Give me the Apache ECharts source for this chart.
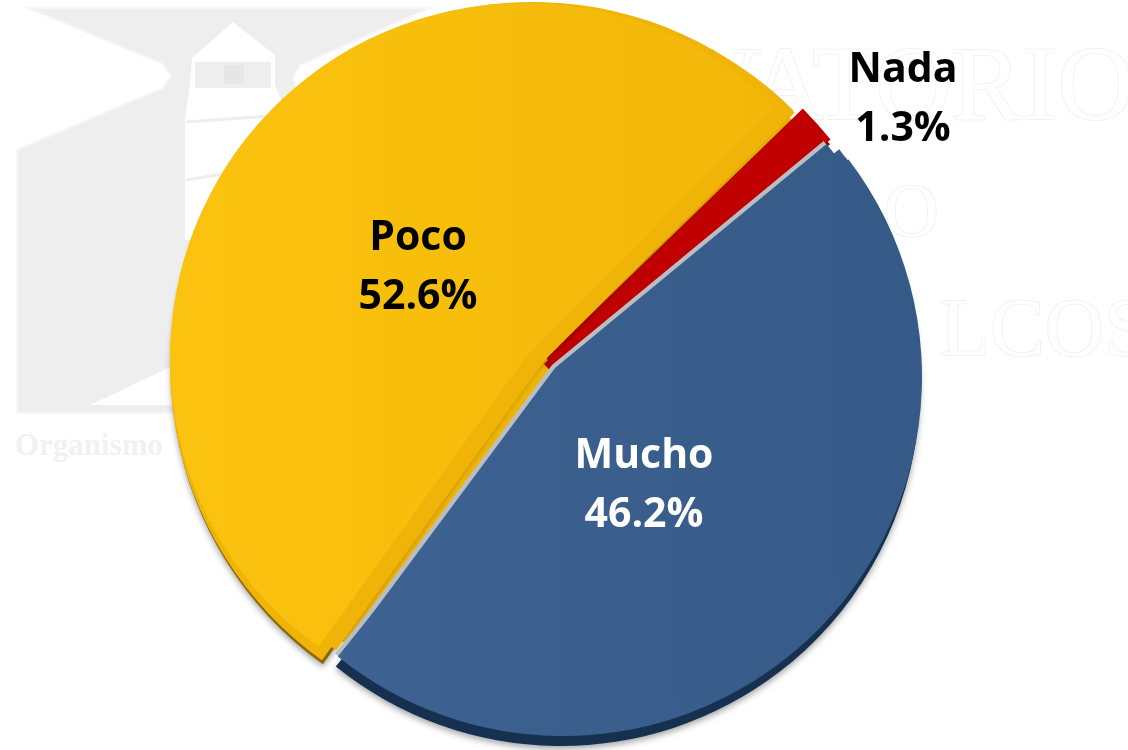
<!DOCTYPE html>
<html>
<head>
<meta charset="utf-8">
<style>
html, body { margin: 0; padding: 0; background: #fff; }
#chart { width: 1128px; height: 750px; }
</style>
<script src="https://cdn.jsdelivr.net/npm/echarts@6/dist/echarts.min.js"></script>
</head>
<body>
<div id="chart"></div>
<script>
var categories = ['Mucho', 'Poco', 'Nada'];
var values = [46.2, 52.6, 1.3];

var total = 0;
for (var k = 0; k < values.length; k++) total += values[k];

// angle of the first slice edge, echarts style (counter clockwise from 3 o'clock)
var baseAngle = 39.5;

function startOf(i) {
    var sum = 0;
    for (var j = 0; j < i; j++) sum += values[j];
    return baseAngle - sum / total * 360;
}

// each slice is exploded by hand, so every layer is its own pie with a hidden remainder
function layer(i, cx, cy, r, color, z, extra) {
    extra = extra || {};
    var s = {
        type: 'pie',
        silent: true,
        z: z,
        center: [cx, cy],
        radius: [extra.inner || 0, r],
        startAngle: startOf(i) - (extra.rot || 0),
        clockwise: true,
        animation: false,
        avoidLabelOverlap: false,
        label: { show: false },
        labelLine: { show: false },
        emphasis: { disabled: true },
        data: [
            { name: categories[i], value: values[i], itemStyle: Object.assign({ color: color }, extra.itemStyle) },
            { name: '', value: total - values[i], itemStyle: { color: 'rgba(0,0,0,0)' }, label: { show: false } }
        ]
    };
    if (extra.label) {
        s.label = {
            show: true,
            position: 'inside',
            formatter: '{b}\n{c}%',
            fontFamily: 'Open Sans',
            fontWeight: 'bold',
            fontSize: 41,
            lineHeight: 59,
            color: extra.label.color
        };
        s.labelLayout = function (p) {
            return p.dataIndex == 0 ? { x: extra.label.x, y: extra.label.y, align: 'center', verticalAlign: 'middle' } : {};
        };
    }
    return s;
}

function grad(a, b) {
    return { type: 'linear', x: 0, y: 0, x2: 1, y2: 0, colorStops: [{ offset: 0, color: a }, { offset: 1, color: b }] };
}

var shadowStyle = { shadowBlur: 6, shadowColor: 'rgba(0,0,0,0.35)', shadowOffsetY: 3 };
var blueFace = grad('#3e6392', '#355a88');
var clear = 'rgba(0,0,0,0)';

var series = [
    // fills the thin gap along the blue edge, under the red strip
    layer(1, 551, 367, 345, '#efb407', 1),
    // Nada, sits under the other two so only the strip between them shows
    layer(2, 435, 470, 512, '#ab0000', 2, { inner: 152 }),
    layer(2, 437, 464, 510, '#c00000', 2, { inner: 152 }),
    // Poco
    layer(1, 534, 369, 363, '#8a6a05', 3, { rot: -1.1, itemStyle: shadowStyle }),
    layer(1, 533, 365, 363, '#efb407', 4, { rot: -1.1 }),
    layer(1, 552, 351, 340, '#efb407', 4, { rot: -0.3 }),
    layer(1, 543, 362, 355, '#efb407', 4, { rot: -1 }),
    layer(1, 525, 358, 355, grad('#fbc30f', '#f2b708'), 5, { rot: -1.1, label: { x: 418, y: 268, color: '#000' } }),
    // Mucho
    layer(0, 561, 387, 359, '#16304f', 7, { rot: 2.2, itemStyle: shadowStyle }),
    layer(0, 552, 365, 352, '#b9bec4', 8),
    layer(0, 560, 374, 359, '#b9bec4', 8, { rot: 2.2 }),
    layer(0, 563, 377, 359, blueFace, 9, { rot: 2.2 }),
    layer(0, 559, 372, 358, blueFace, 9, { rot: 1 }),
    layer(0, 555, 368, 352, blueFace, 9, { label: { x: 644, y: 486, color: '#fff' } }),
    // Nada label only, on top of everything
    layer(2, 437, 464, 510, clear, 10, { label: { x: 903, y: 100, color: '#000' } })
];

var gray = '#eeeeee';
var watermark = [
    { type: 'polygon', z: 0, shape: { points: [[28, 8], [430, 8], [300, 65], [293, 78], [300, 100], [300, 413], [17, 413], [17, 150], [163, 88], [171, 76], [163, 64]] }, style: { fill: gray, stroke: '#f6f6f6', lineWidth: 2 } },
    { type: 'polygon', z: 0, shape: { points: [[233, 22], [275, 55], [275, 85], [286, 110], [270, 120], [270, 240], [185, 240], [185, 118], [190, 85], [192, 58]] }, style: { fill: '#fff' } },
    { type: 'rect', z: 0, shape: { x: 195, y: 62, width: 76, height: 26 }, style: { fill: gray } },
    { type: 'rect', z: 0, shape: { x: 224, y: 65, width: 20, height: 19 }, style: { fill: '#e6e6e6' } },
    { type: 'line', z: 0, shape: { x1: 186, y1: 122, x2: 270, y2: 116 }, style: { stroke: gray, lineWidth: 3 } },
    { type: 'line', z: 0, shape: { x1: 186, y1: 180, x2: 235, y2: 172 }, style: { stroke: gray, lineWidth: 3 } },
    { type: 'polygon', z: 0, shape: { points: [[90, 405], [175, 365], [190, 405]] }, style: { fill: '#fff' } },
    { type: 'text', z: 0, style: { x: 15, y: 431, text: 'Organismo', fontFamily: 'Liberation Serif', fontWeight: 'bold', fontSize: 31, fill: '#f1f1f1' } },
    { type: 'text', z: 0, style: { x: 1134, y: 38, text: 'VATORIO', align: 'right', fontFamily: 'Liberation Serif', fontSize: 106, fill: '#fff', stroke: '#eeeeee', lineWidth: 1.5 } },
    { type: 'text', z: 0, style: { x: 884, y: 178, text: 'O', fontFamily: 'Liberation Serif', fontSize: 76, fill: '#fff', stroke: '#eeeeee', lineWidth: 1.5 } },
    { type: 'text', z: 0, style: { x: 940, y: 292, text: 'LCOS', fontFamily: 'Liberation Serif', fontSize: 82, fill: '#fff', stroke: '#eeeeee', lineWidth: 1.5 } }
];

var myChart = echarts.init(document.getElementById('chart'), null, { renderer: 'canvas' });
myChart.setOption({
    backgroundColor: '#fff',
    animation: false,
    graphic: { elements: watermark },
    series: series
});
</script>
</body>
</html>
